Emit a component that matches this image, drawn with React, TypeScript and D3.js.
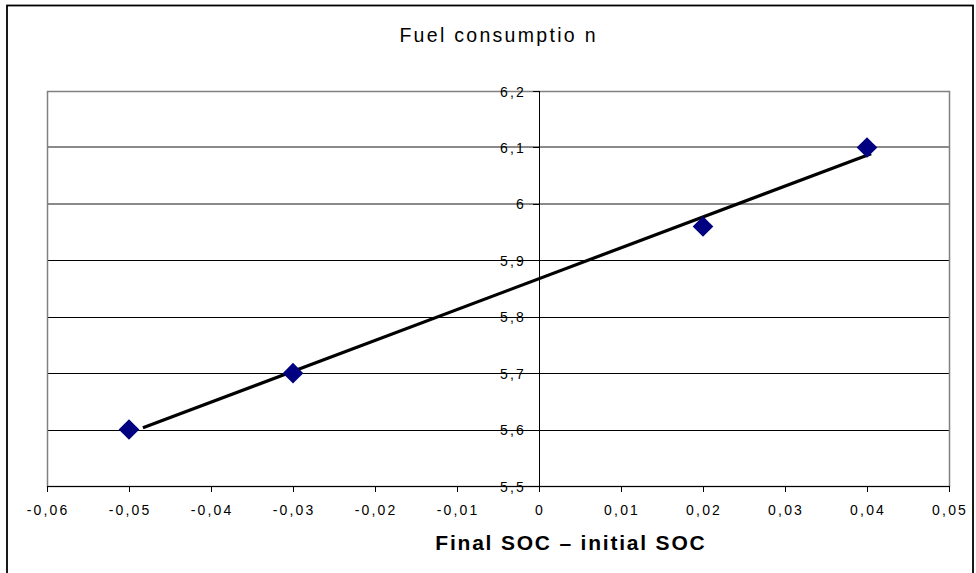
import React from "react";
import * as d3 from "d3";

const title = "Fuel consumptio n";
const xTitle = "Final SOC – initial SOC";
const xValues = [-0.05, -0.03, 0.02, 0.04];
const yValues = [5.6, 5.7, 5.96, 6.1];
const xTicks = [-0.06, -0.05, -0.04, -0.03, -0.02, -0.01, 0, 0.01, 0.02, 0.03, 0.04, 0.05];
const yTicks = [5.5, 5.6, 5.7, 5.8, 5.9, 6.0, 6.1, 6.2];
const trendRange = [-0.0483, 0.0405];

const fmt = (v: number) => String(Math.round(v * 100) / 100).replace(".", ",");

export default function App() {
  const W = 976, H = 573;
  const left = 47, right = 949, top = 91, bottom = 486;
  const x = d3.scaleLinear().domain([-0.06, 0.05]).range([left, right]);
  const y = d3.scaleLinear().domain([5.5, 6.2]).range([bottom, top]);

  const mx = d3.mean(xValues)!;
  const my = d3.mean(yValues)!;
  const sxy = d3.sum(xValues.map((v, i) => (v - mx) * (yValues[i] - my)));
  const sxx = d3.sum(xValues.map((v) => (v - mx) ** 2));
  const slope = sxy / sxx;
  const icpt = my - slope * mx;
  const trend = trendRange.map((v) => [v, icpt + slope * v] as [number, number]);
  const line = d3.line<[number, number]>().x((d) => x(d[0])).y((d) => y(d[1]));

  const x0 = Math.round(x(0));
  const font = "'Liberation Sans', Arial, sans-serif";
  const r = 10.3;
  const tickFs = 14;
  const tickLs = 2.2;
  const py = (v: number) => Math.round(y(v)) + 0.5;

  return (
    <svg width={W} height={H} style={{ position: "absolute", left: 0, top: 0 }}>
      <rect x={0} y={0} width={W} height={H} fill="#fff" />
      <rect x={7} y={5.5} width={966} height={590} fill="none" stroke="#000" strokeWidth={1.8} />
      <text x={497.5 + 1.1} y={41.7} textAnchor="middle" fontFamily={font} fontSize={19.5} letterSpacing={2.3} fill="#000">
        {title}
      </text>
      {yTicks.slice(1, -1).map((t) => (
        <line key={"g" + t} x1={left} x2={right} y1={t >= 5.95 ? Math.round(y(t)) : py(t)} y2={t >= 5.95 ? Math.round(y(t)) : py(t)}
          stroke={t >= 5.95 ? "#8a8a8a" : "#000"} strokeWidth={t >= 5.95 ? 2 : 1} />
      ))}
      <rect x={left + 0.5} y={top + 0.5} width={right - left} height={bottom - top} fill="none" stroke="#808080" strokeWidth={1.5} />
      {/* y axis at x=0 */}
      <line x1={x0 + 0.5} x2={x0 + 0.5} y1={top} y2={bottom} stroke="#000" />
      {yTicks.map((t) => (
        <g key={"yt" + t}>
          <line x1={x0 - 6} x2={x0} y1={py(t)} y2={py(t)} stroke="#000" />
          <text x={x0 - 13} y={y(t) + 5.5} textAnchor="end" fontFamily={font} fontSize={tickFs} letterSpacing={tickLs} fill="#000">
            {fmt(t)}
          </text>
        </g>
      ))}
      {/* x axis */}
      <line x1={left} x2={right + 1} y1={bottom + 0.5} y2={bottom + 0.5} stroke="#000" />
      {xTicks.map((t) => (
        <g key={"xt" + t}>
          <line x1={Math.round(x(t)) + 0.5} x2={Math.round(x(t)) + 0.5} y1={bottom} y2={bottom + 6} stroke="#000" />
          <text x={x(t) + tickLs / 2} y={514.5} textAnchor="middle" fontFamily={font} fontSize={tickFs} letterSpacing={tickLs} fill="#000">
            {fmt(t)}
          </text>
        </g>
      ))}
      <text x={570 + 0.9} y={550} textAnchor="middle" fontFamily={font} fontSize={21} fontWeight="bold" letterSpacing={1.8} fill="#000">
        {xTitle}
      </text>
      <path d={line(trend)!} fill="none" stroke="#000" strokeWidth={3.2} />
      {xValues.map((v, i) => {
        const cx = x(v), cy = y(yValues[i]);
        return (
          <path key={"p" + i} d={`M${cx},${cy - r}L${cx + r},${cy}L${cx},${cy + r}L${cx - r},${cy}Z`} fill="#000080" />
        );
      })}
    </svg>
  );
}
